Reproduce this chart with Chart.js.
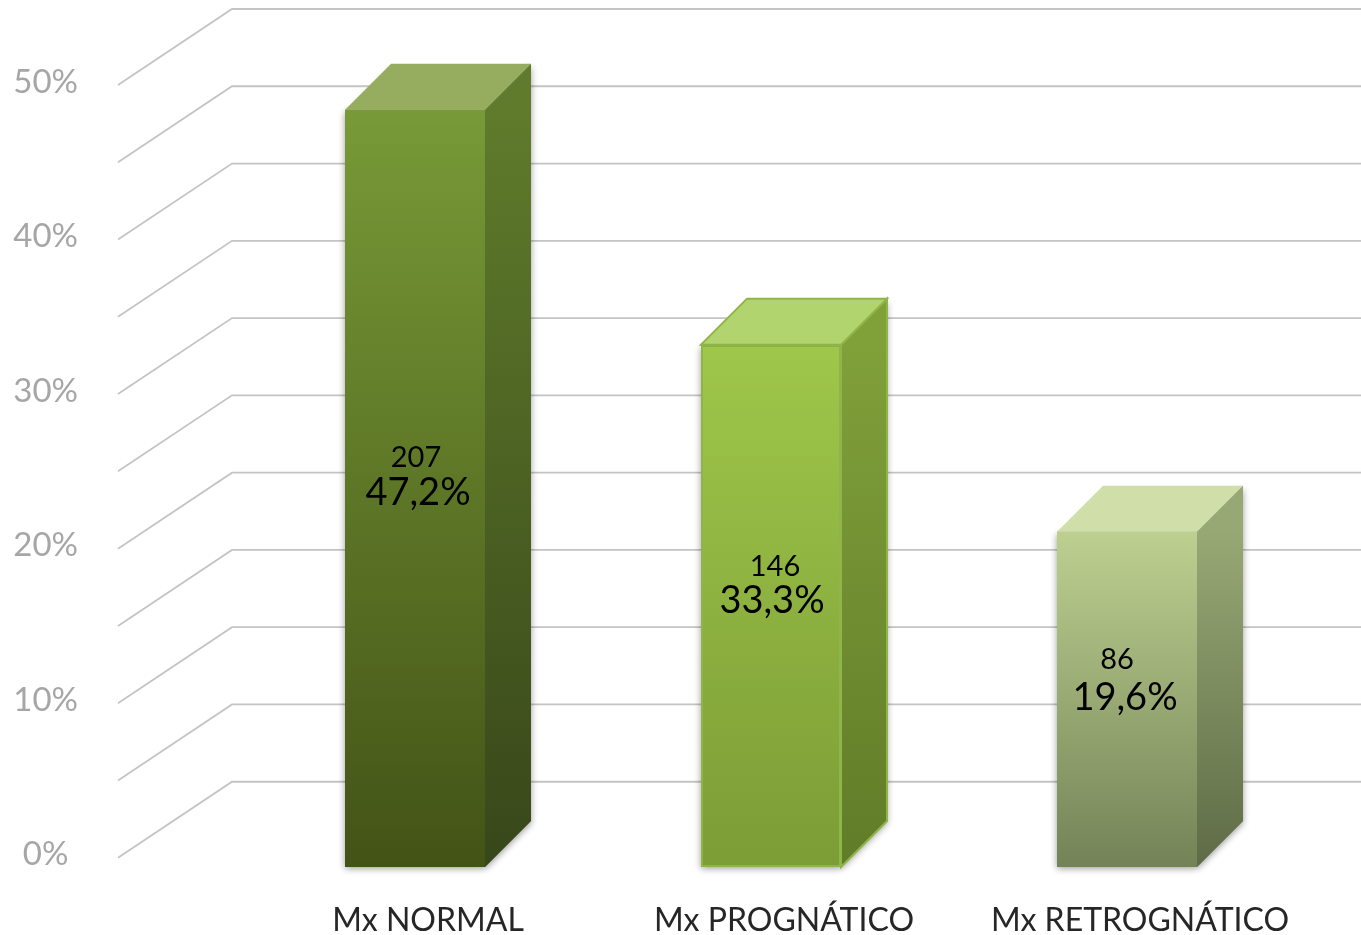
<!DOCTYPE html>
<html>
<head>
<meta charset="utf-8">
<style>
  html, body { margin: 0; padding: 0; background: #fff; overflow: hidden; }
  canvas { display: block; }
</style>
<script src="https://cdn.jsdelivr.net/npm/chart.js@4"></script>
</head>
<body>
<canvas id="myChart" width="1361" height="935"></canvas>
<script>
// Values
var categories = ['Mx NORMAL', 'Mx PROGNÁTICO', 'Mx RETROGNÁTICO'];
var barTops = [48.4, 33.2, 21.1];     // bar heights
var barBase = -0.6;                   // bars stand a little below the floor line
var counts = ['207', '146', '86'];
var percents = ['47,2%', '33,3%', '19,6%'];
var tickValues = [0, 10, 20, 30, 40, 50];
var gridValues = [0, 5, 10, 15, 20, 25, 30, 35, 40, 45, 50];

// Colours per bar
var frontTop = ['#789a37', '#9fc74a', '#bdd090'];
var frontBottom = ['#435316', '#7c9c36', '#748357'];
var sideTop = ['#5f7b2b', '#80a03a', '#98a874'];
var sideBottom = ['#38471a', '#607c28', '#5e6b46'];
var topFace = ['#96ad60', '#b1d46e', '#d0dfa9'];
var edgeColor = [null, '#8fb548', null];

// Depth of the fake 3D
var wallX = 114, wallY = -76;
var barDepth = 46;

// label nudges from the middle of each bar
var pctShiftX = [3, 1, -2], pctShiftY = [4, -5, -2];
var countShiftX = [1, 4, -10], countShiftY = [-31, -39, -40];

function vGradient(ctx, y0, y1, c0, c1) {
    var g = ctx.createLinearGradient(0, y0, 0, y1);
    g.addColorStop(0, c0);
    g.addColorStop(1, c1);
    return g;
}

var threeD = {
    id: 'threeD',
    beforeDatasetsDraw: function (chart) {
        var ctx = chart.ctx, y = chart.scales.y;
        var left = 118, right = chart.width;

        // floor diagonals and back wall lines
        ctx.save();
        ctx.strokeStyle = '#c4c4c4';
        ctx.lineWidth = 1.8;
        gridValues.forEach(function (v) {
            var py = y.getPixelForValue(v);
            ctx.beginPath();
            ctx.moveTo(left, py);
            ctx.lineTo(left + wallX, py + wallY);
            ctx.lineTo(right, py + wallY);
            ctx.stroke();
        });
        ctx.restore();

        // side and top of each bar
        chart.getDatasetMeta(0).data.forEach(function (bar, i) {
            var x0 = bar.x - bar.width / 2, x1 = bar.x + bar.width / 2;
            var yt = bar.y, yb = bar.base, d = barDepth;

            ctx.save();
            ctx.shadowColor = 'rgba(0,0,0,0.4)';
            ctx.shadowBlur = 7;
            ctx.shadowOffsetY = 2;
            ctx.fillStyle = '#777';
            ctx.fillRect(x0, yt, x1 - x0, yb - yt);
            ctx.beginPath();
            ctx.moveTo(x1, yt);
            ctx.lineTo(x1 + d, yt - d);
            ctx.lineTo(x1 + d, yb - d);
            ctx.lineTo(x1, yb);
            ctx.closePath();
            ctx.fill();
            ctx.restore();

            ctx.save();
            ctx.beginPath();
            ctx.moveTo(x1, yt);
            ctx.lineTo(x1 + d, yt - d);
            ctx.lineTo(x1 + d, yb - d);
            ctx.lineTo(x1, yb);
            ctx.closePath();
            ctx.fillStyle = vGradient(ctx, yt, yb, sideTop[i], sideBottom[i]);
            ctx.fill();
            if (edgeColor[i]) {
                ctx.strokeStyle = edgeColor[i];
                ctx.lineWidth = 2;
                ctx.stroke();
            }

            ctx.beginPath();
            ctx.moveTo(x0, yt);
            ctx.lineTo(x0 + d, yt - d);
            ctx.lineTo(x1 + d, yt - d);
            ctx.lineTo(x1, yt);
            ctx.closePath();
            ctx.fillStyle = topFace[i];
            ctx.fill();
            if (edgeColor[i]) {
                ctx.strokeStyle = edgeColor[i];
                ctx.lineWidth = 2;
                ctx.stroke();
            }
            ctx.restore();
        });
    },
    afterDatasetsDraw: function (chart) {
        var ctx = chart.ctx;
        ctx.save();
        ctx.fillStyle = '#000';
        ctx.textAlign = 'center';
        ctx.textBaseline = 'middle';
        chart.getDatasetMeta(0).data.forEach(function (bar, i) {
            var mid = (bar.y + bar.base) / 2;
            ctx.font = '29px Lato';
            ctx.fillText(counts[i], bar.x + countShiftX[i], mid + countShiftY[i]);
            ctx.font = '38px Lato';
            ctx.fillText(percents[i], bar.x + pctShiftX[i], mid + pctShiftY[i]);
        });
        ctx.restore();
    }
};

var myChart = new Chart(document.getElementById('myChart').getContext('2d'), {
    type: 'bar',
    data: {
        labels: categories,
        datasets: [{
            data: barTops.map(function (v) { return [barBase, v]; }),
            barPercentage: 140 / 356,
            categoryPercentage: 1,
            borderSkipped: false,
            borderWidth: function (c) { return edgeColor[c.dataIndex] ? 2 : 0; },
            borderColor: function (c) { return edgeColor[c.dataIndex] || 'transparent'; },
            backgroundColor: function (c) {
                var y = c.chart.scales.y;
                var y0 = y ? y.getPixelForValue(barTops[c.dataIndex]) : NaN;
                var y1 = y ? y.getPixelForValue(barBase) : NaN;
                if (!isFinite(y0) || !isFinite(y1)) return frontTop[c.dataIndex];
                return vGradient(c.chart.ctx, y0, y1, frontTop[c.dataIndex], frontBottom[c.dataIndex]);
            }
        }]
    },
    options: {
        responsive: false,
        animation: false,
        devicePixelRatio: 1,
        layout: { padding: { top: 85, right: 56, left: 0, bottom: 0 } },
        plugins: { legend: { display: false }, tooltip: { enabled: false } },
        scales: {
            x: {
                grid: { display: false, drawTicks: false },
                border: { display: false },
                afterFit: function (s) { s.height = 68; },
                ticks: {
                    color: '#262626',
                    font: { family: 'Lato', size: 32 },
                    padding: 34,
                    labelOffset: 13,
                    maxRotation: 0,
                    autoSkip: false
                }
            },
            y: {
                min: barBase,
                max: 50,
                grid: { display: false, drawTicks: false },
                border: { display: false },
                afterBuildTicks: function (s) {
                    s.ticks = tickValues.map(function (v) { return { value: v }; });
                },
                afterFit: function (s) {
                    // big tick padding would otherwise push the plot in from top and bottom
                    s.width = 237;
                    s.paddingTop = 0;
                    s.paddingBottom = 0;
                },
                ticks: {
                    color: '#a6a6a6',
                    font: { family: 'Lato', size: 33 },
                    crossAlign: 'center',
                    padding: 159,
                    labelOffset: -3,
                    callback: function (v) { return v + '%'; }
                }
            }
        }
    },
    plugins: [threeD]
});
</script>
</body>
</html>
